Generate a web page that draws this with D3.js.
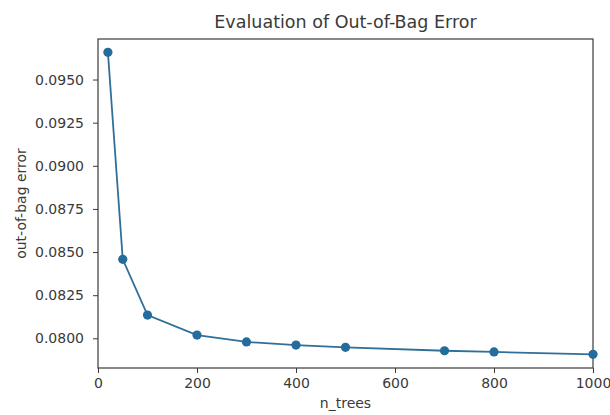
<!DOCTYPE html>
<html>
<head>
<meta charset="utf-8">
<script src="https://cdn.jsdelivr.net/npm/d3@7"></script>
<style>
  html, body { margin: 0; padding: 0; background: #fff; }
  svg { display: block; font-family: "DejaVu Sans", sans-serif; }
</style>
</head>
<body>
<svg id="chart" width="610" height="415"></svg>
<script>
// Out-of-bag error per forest size
const nTrees = [20, 50, 100, 200, 300, 400, 500, 700, 800, 1000];
const oobError = [0.09658, 0.08458, 0.08135, 0.08019, 0.07979, 0.07961, 0.07948, 0.07928, 0.07921, 0.07907];
const xTicks = [0, 200, 400, 600, 800, 1000];
const yTicks = [0.0800, 0.0825, 0.0850, 0.0875, 0.0900, 0.0925, 0.0950];

const svg = d3.select("#chart");
const margin = { left: 98, right: 17, top: 39, bottom: 47 };
const W = 610, H = 415;
const innerW = W - margin.left - margin.right;
const innerH = H - margin.top - margin.bottom;

const x = d3.scaleLinear().domain([0, 1000]).range([margin.left, margin.left + innerW]);
const yMin = 0.07828, yMax = 0.09735;
const y = d3.scaleLinear().domain([yMin, yMax]).range([margin.top + innerH, margin.top]);

const ink = "#3a3a3a";
const font = "'DejaVu Sans', sans-serif";

// axes
const xAxis = svg.append("g")
  .attr("transform", `translate(0,${margin.top + innerH})`)
  .call(d3.axisBottom(x).tickValues(xTicks).tickSize(5).tickPadding(5).tickFormat(d3.format("d")));
const yAxis = svg.append("g")
  .attr("transform", `translate(${margin.left},0)`)
  .call(d3.axisLeft(y).tickValues(yTicks).tickSize(5).tickPadding(9).tickFormat(d3.format(".4f")));

[xAxis, yAxis].forEach(g => {
  g.select(".domain").remove();
  g.selectAll(".tick line").attr("stroke", ink).attr("stroke-width", 1);
  g.selectAll(".tick text").attr("fill", ink).style("font-size", "14px").style("font-family", font);
});

// plot frame
svg.append("rect")
  .attr("x", margin.left).attr("y", margin.top)
  .attr("width", innerW).attr("height", innerH)
  .attr("fill", "none").attr("stroke", ink).attr("stroke-width", 1.2);

const pts = nTrees.map((n, i) => [n, oobError[i]]);

svg.append("path")
  .datum(pts)
  .attr("fill", "none")
  .attr("stroke", "#2f6f9a")
  .attr("stroke-width", 1.8)
  .attr("d", d3.line().x(d => x(d[0])).y(d => y(d[1])));

svg.append("g").selectAll("circle")
  .data(pts)
  .join("circle")
  .attr("cx", d => x(d[0]))
  .attr("cy", d => y(d[1]))
  .attr("r", 4.6)
  .attr("fill", "#236c9c");

// title and axis labels
svg.append("text")
  .attr("x", margin.left + innerW / 2).attr("y", 28)
  .attr("text-anchor", "middle")
  .attr("fill", ink)
  .style("font-size", "17.5px")
  .text("Evaluation of Out-of-Bag Error");

svg.append("text")
  .attr("x", margin.left + innerW / 2).attr("y", 408)
  .attr("text-anchor", "middle")
  .attr("fill", ink)
  .style("font-size", "14px")
  .text("n_trees");

svg.append("text")
  .attr("transform", `translate(26,${margin.top + innerH / 2}) rotate(-90)`)
  .attr("text-anchor", "middle")
  .attr("fill", ink)
  .style("font-size", "14px")
  .text("out-of-bag error");
</script>
</body>
</html>
